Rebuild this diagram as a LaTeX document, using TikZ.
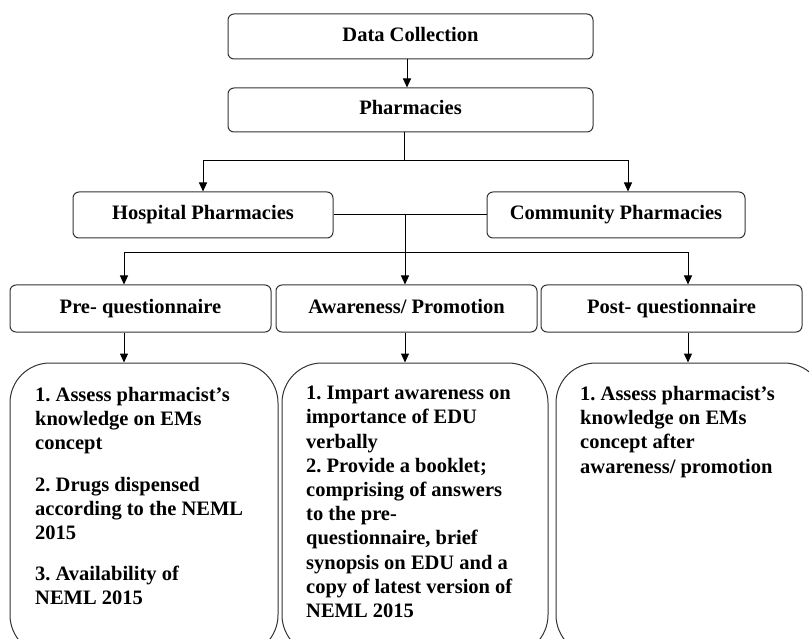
\documentclass[tikz,border=0pt]{standalone}
\usepackage{fontspec}
\setmainfont{Liberation Serif}
\usetikzlibrary{arrows.meta}
\begin{document}
\frenchspacing
\begin{tikzpicture}[x=1pt,y=-1pt,
  box/.style={draw=black!80, line width=1pt, rounded corners=6pt, inner sep=0pt,
    text height=14pt, text depth=4.5pt,
    font=\bfseries\fontsize{20.5}{24}\selectfont},
  bigbox/.style={draw=black!80, line width=1pt, rounded corners=40pt, inner sep=0pt},
  txt/.style={font=\bfseries\fontsize{20.5}{24.2}\selectfont, align=left, inner sep=0pt, anchor=north west},
  conn/.style={line width=1pt, -{Triangle[length=9pt,width=8pt]}},
  plain/.style={line width=1pt}]
\useasboundingbox (0,0) rectangle (809,639);
\clip (0,0) rectangle (809,639);
% top row
\node[box, minimum width=365pt, minimum height=45pt] (dc) at (410.5,36.5) {Data Collection};
\node[box, minimum width=365pt, minimum height=44pt] (ph) at (410.5,110) {Pharmacies};
\node[box, minimum width=260pt, minimum height=46pt] (hosp) at (203,215) {Hospital Pharmacies};
\node[box, minimum width=258pt, minimum height=46pt] (com) at (616,215) {Community Pharmacies};
% middle row
\node[box, minimum width=261pt, minimum height=47pt] (pre) at (140.5,308.5) {Pre- questionnaire};
\node[box, minimum width=261pt, minimum height=47pt] (aw) at (406.5,308.5) {Awareness/ Promotion};
\node[box, minimum width=261pt, minimum height=47pt] (post) at (671.5,308.5) {Post- questionnaire};
% bottom row
\node[bigbox, minimum width=268pt, minimum height=292pt] (b1) at (144,509) {};
\node[bigbox, minimum width=266pt, minimum height=292pt] (b2) at (415,509) {};
\node[bigbox, minimum width=268pt, minimum height=292pt] (b3) at (690,509) {};
\node[txt] (t1) at (35,387) {1. Assess pharmacist's\\knowledge on EMs\\concept\\[17pt]2. Drugs dispensed\\according to the NEML\\2015\\[17pt]3. Availability of\\NEML 2015};
\node[txt] (t2) at (306,386) {1. Impart awareness on\\importance of EDU\\verbally\\2. Provide a booklet;\\comprising of answers\\to the pre-\\questionnaire, brief\\synopsis on EDU and a\\copy of latest version of\\NEML 2015};
\node[txt] (t3) at (580,386) {1. Assess pharmacist's\\knowledge on EMs\\concept after\\awareness/ promotion};
% connectors
\draw[conn] ([xshift=-3.5pt]dc.south) -- ([xshift=-3.5pt]ph.north);
\coordinate (j1) at (404,161);
\draw[plain] (ph.south -| j1) -- (j1);
\draw[conn] (j1) -| (hosp.north);
\draw[conn] (j1) -| ([xshift=12pt]com.north);
\coordinate (j2) at (405,253);
\draw[plain] (hosp.east) -- (com.west);
\draw[plain] (hosp.east -| j2) -- (j2);
\draw[conn] (j2) -- (j2 |- aw.north);
\draw[conn] (j2) -| ([xshift=-16.5pt]pre.north);
\draw[conn] (j2) -| ([xshift=16.5pt]post.north);
\draw[conn] ([xshift=-16.5pt]pre.south) -- ([xshift=-16.5pt]pre.south |- b1.north);
\draw[conn] (j2 |- aw.south) -- (j2 |- b2.north);
\draw[conn] ([xshift=16.5pt]post.south) -- ([xshift=16.5pt]post.south |- b3.north);
\end{tikzpicture}
\end{document}
